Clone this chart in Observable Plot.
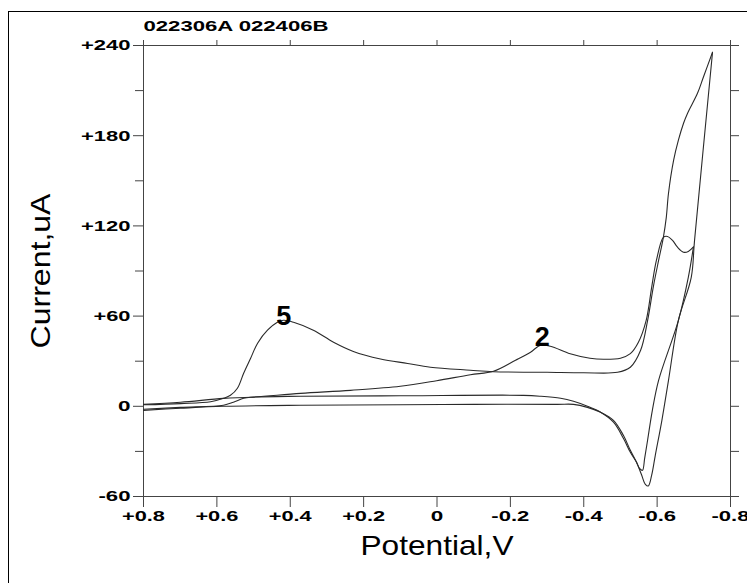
<!DOCTYPE html>
<html>
<head>
<meta charset="utf-8">
<script src="https://cdn.jsdelivr.net/npm/d3@7"></script>
<script src="https://cdn.jsdelivr.net/npm/@observablehq/plot@0.6"></script>
<style>
  html, body { margin: 0; padding: 0; background: #fff; }
  #wrap { position: relative; width: 747px; height: 583px; overflow: hidden; background: #fff; }
  #border { position: absolute; left: 8px; top: 11px; width: 900px; height: 900px; border-left: 1px solid #000; border-top: 1px solid #000; }
  #wrap svg { position: absolute; left: 0; top: 0; }
</style>
</head>
<body>
<div id="wrap"><div id="border"></div></div>
<script>
// ---- data (potential in V, current in uA) ----
const xTickValues = [0.8, 0.6, 0.4, 0.2, 0, -0.2, -0.4, -0.6, -0.8];
const xTickLabels = ["+0.8", "+0.6", "+0.4", "+0.2", "0", "-0.2", "-0.4", "-0.6", "-0.8"];
const yTickValues = [-60, 0, 60, 120, 180, 240];
const yTickLabels = ["-60", "0", "+60", "+120", "+180", "+240"];
const yMinorTicks = [-30, 30, 90, 150, 210];
const yRightTicks = [-60, -30, 0, 30, 60, 90, 120, 150, 180, 210, 240];

const titleText = "022306A 022406B";
const xLabel = "Potential,V";
const yLabel = "Current,uA";

// scan A: forward (peak "5")
const aForwardV = [0.800,0.699,0.617,0.582,0.563,0.544,0.527,0.508,0.489,0.462,0.435,0.418,0.391,0.337,0.282,0.228,0.154,0.080,0.018,-0.091,-0.154,-0.300,-0.400,-0.492,-0.527,-0.555,-0.574,-0.590,-0.604,-0.617,-0.625,-0.631,-0.645,-0.658,-0.672,-0.683,-0.710,-0.726,-0.751];
const aForwardI = [1.0,1.8,3.0,5.3,7.3,12,22,32,42,50.6,55.9,57.2,55.9,50.6,42.6,36.5,31.5,28.5,26,24,23,22.6,22.3,22.6,26,37.3,57,80,97,112.4,125.7,141.7,163.7,177,188.3,195,208.2,218.9,235.5];
// scan A: reverse
const aReverseV = [-0.751,-0.702,-0.693,-0.658,-0.631,-0.613,-0.595,-0.585,-0.576,-0.568,-0.557,-0.544,-0.527,-0.508,-0.481,-0.446,-0.410,-0.372,-0.328,-0.100,0.100,0.372,0.582,0.699,0.800];
const aReverseI = [235.5,110.4,85.8,57.2,17.3,-9.3,-32.6,-46,-53,-51.9,-45.2,-37.3,-29.3,-19.3,-9.3,-4,-0.7,1.3,1.3,1.3,1.0,0.7,0,-1.3,-2.7];
// scan B: forward (peak "2")
const bForwardV = [0.800,0.699,0.582,0.508,0.372,0.236,0.100,0.001,-0.091,-0.154,-0.214,-0.255,-0.282,-0.309,-0.363,-0.417,-0.454,-0.500,-0.527,-0.549,-0.570,-0.585,-0.598,-0.617,-0.628,-0.642,-0.655,-0.672,-0.685,-0.699];
const bForwardI = [1.3,2.7,5.3,6,8.6,10.6,13.3,17,21,23.3,30.6,36,40.6,40,35,32,31.3,32,35,42.6,57,79,97,112.4,113,110.4,106,102.5,103,106];
// scan B: reverse
const bReverseV = [-0.699,-0.685,-0.658,-0.604,-0.587,-0.574,-0.566,-0.560,-0.552,-0.544,-0.527,-0.508,-0.481,-0.446,-0.410,-0.372,-0.337,-0.282,-0.236,0.100,0.372,0.508,0.527,0.555,0.582,0.699,0.800];
const bReverseI = [106,85.8,57.2,17.3,-2.7,-22.6,-34.6,-42.6,-41.3,-37.3,-30.6,-21.3,-10.6,-4,0,3.3,5.3,6.7,7.3,7,6.7,6,5.3,2.7,0.7,-0.7,-2];

// peak annotations
const peakLabels = ["5", "2"];
const peakV = [0.418, -0.287];
const peakI = [59.9, 45.9];

// ---- build tables ----
const toRows = (vs, is, scan) => vs.map((v, k) => ({v, i: is[k], scan}));
const traces = [
  toRows(aForwardV, aForwardI, "A fwd"),
  toRows(aReverseV, aReverseI, "A rev"),
  toRows(bForwardV, bForwardI, "B fwd"),
  toRows(bReverseV, bReverseI, "B rev")
];
const peaks = peakLabels.map((t, k) => ({t, v: peakV[k], i: peakI[k]}));

const lineColor = "#2a2a2a";
const axisColor = "#444";
const tickFont = {fontSize: 15, fontWeight: "bold"};

const chart = Plot.plot({
  width: 747,
  height: 583,
  marginLeft: 143,
  marginRight: 17,
  marginTop: 45,
  marginBottom: 87,
  style: {fontFamily: "'Liberation Sans', Arial, sans-serif", fontSize: "13px", background: "transparent", color: "#000", overflow: "visible"},
  x: {domain: [0.8, -0.8]},
  y: {domain: [-60, 240]},
  marks: [
    Plot.frame({stroke: axisColor}),
    Plot.axisX({anchor: "bottom", ticks: xTickValues, tickFormat: d => xTickLabels[xTickValues.indexOf(d)], tickSize: 11, tickPadding: 3, label: null, stroke: axisColor, ...tickFont}),
    Plot.axisX({anchor: "top", ticks: xTickValues, tickFormat: () => "", tickSize: 6, label: null, stroke: axisColor}),
    Plot.axisY({anchor: "left", ticks: yTickValues, tickFormat: d => yTickLabels[yTickValues.indexOf(d)], tickSize: 10, tickPadding: 3, label: null, stroke: axisColor, ...tickFont}),
    Plot.axisY({anchor: "left", ticks: yMinorTicks, tickFormat: () => "", tickSize: 8, label: null, stroke: axisColor}),
    Plot.axisY({anchor: "right", ticks: yRightTicks, tickFormat: () => "", tickSize: 8, label: null, stroke: axisColor}),
    ...traces.map(rows => Plot.line(rows, {x: "v", y: "i", stroke: lineColor, strokeWidth: 1.1, curve: "catmull-rom"})),
    Plot.text(peaks, {x: "v", y: "i", text: "t", fontSize: 27, fontWeight: "bold", fill: "#000"}),
    Plot.text([titleText], {text: d => d, frameAnchor: "top-left", textAnchor: "start", lineAnchor: "middle", dy: -19, fontSize: 15, fontWeight: "bold"}),
    Plot.text([xLabel], {text: d => d, frameAnchor: "bottom", textAnchor: "middle", lineAnchor: "middle", dy: 50, fontSize: 28}),
    Plot.text([yLabel], {text: d => d, frameAnchor: "left", textAnchor: "middle", lineAnchor: "middle", dx: -102, rotate: -90, fontSize: 28})
  ]
});

// stretch texts to the wide lettering of the original
const charW = c => /[0-9]/.test(c) ? 12.5 : c === "+" ? 12 : c === "-" ? 7 : c === "." ? 6 : 12;
const fixedLen = {};
fixedLen[titleText] = 185;
fixedLen[xLabel] = 153;
fixedLen[yLabel] = 155;
d3.select(chart).selectAll("text").each(function () {
  const s = this.textContent;
  if (!s || peakLabels.includes(s)) return;
  const L = fixedLen[s] !== undefined ? fixedLen[s] : Array.from(s).reduce((a, c) => a + charW(c), 0);
  this.setAttribute("textLength", L);
  this.setAttribute("lengthAdjust", "spacingAndGlyphs");
});

document.getElementById("wrap").appendChild(chart);
</script>
</body>
</html>
